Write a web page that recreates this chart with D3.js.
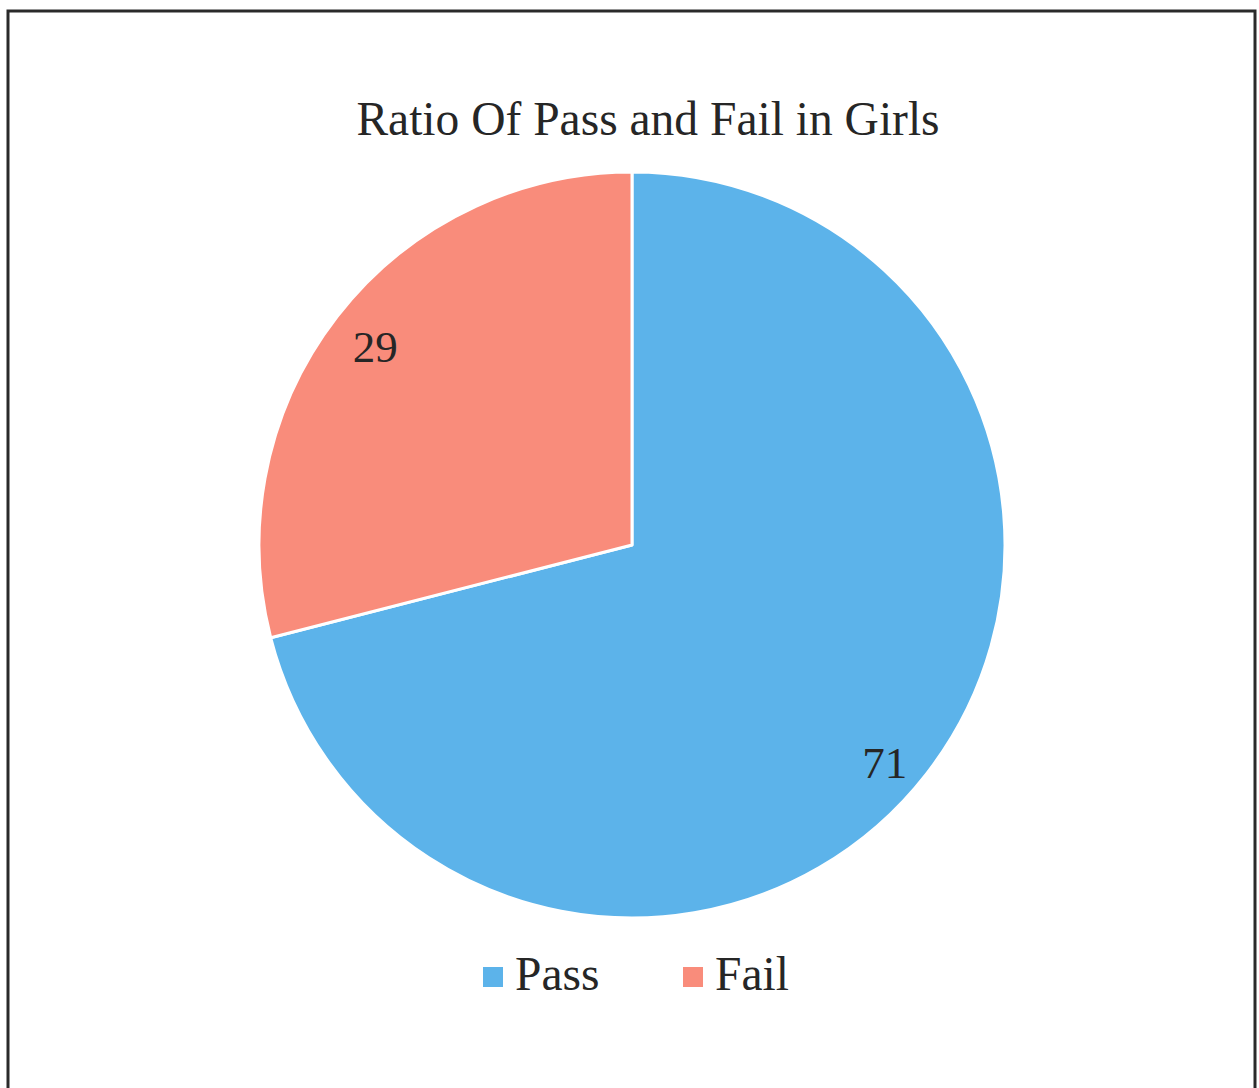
<!DOCTYPE html>
<html>
<head>
<meta charset="utf-8">
<script src="https://cdn.jsdelivr.net/npm/d3@7"></script>
<style>
  body { margin: 0; background: #fff; }
</style>
</head>
<body>
<svg id="chart" width="1259" height="1088"></svg>
<script>
// data
const categories = ["Pass", "Fail"];
const values = [71, 29];
const colors = ["#5cb3ea", "#f98c7b"];
const title = "Ratio Of Pass and Fail in Girls";

const font = '"Liberation Serif"';
const svg = d3.select("#chart");

// outer frame
svg.append("rect")
    .attr("x", 8).attr("y", 11)
    .attr("width", 1247).attr("height", 1090)
    .attr("fill", "none")
    .attr("stroke", "#2a2a2a")
    .attr("stroke-width", 3);

svg.append("text")
    .attr("x", 648).attr("y", 135)
    .attr("text-anchor", "middle")
    .style("font-family", font)
    .attr("font-size", 47.5)
    .attr("fill", "#262626")
    .text(title);

const cx = 632, cy = 545, r = 373;
const data = categories.map((c, i) => ({name: c, value: values[i], color: colors[i]}));

const pie = d3.pie().sort(null).value(d => d.value);
const arc = d3.arc().innerRadius(0).outerRadius(r);
const labelArc = d3.arc().innerRadius(325).outerRadius(325);
// small best-fit nudges for the data labels, like the original
const nudge = {Pass: [-4, 18], Fail: [0, 0]};

const g = svg.append("g").attr("transform", `translate(${cx},${cy})`);

g.selectAll("path")
    .data(pie(data))
    .enter().append("path")
    .attr("d", arc)
    .attr("fill", d => d.data.color)
    .attr("stroke", "#fff")
    .attr("stroke-width", 3)
    .attr("stroke-linejoin", "round");

g.selectAll("text.lbl")
    .data(pie(data))
    .enter().append("text")
    .attr("class", "lbl")
    .attr("transform", d => {
        const [x, y] = labelArc.centroid(d);
        const [nx, ny] = nudge[d.data.name];
        return `translate(${x + nx},${y + ny})`;
    })
    .attr("text-anchor", "middle")
    .attr("dy", "0.35em")
    .style("font-family", font)
    .attr("font-size", 45)
    .attr("fill", "#262626")
    .text(d => d.data.value);

// legend
const legendX = [483, 683];
const leg = svg.selectAll("g.leg")
    .data(data)
    .enter().append("g")
    .attr("class", "leg")
    .attr("transform", (d, i) => `translate(${legendX[i]},967)`);

leg.append("rect")
    .attr("width", 20).attr("height", 20)
    .attr("fill", d => d.color);

leg.append("text")
    .attr("x", 32).attr("y", 23)
    .style("font-family", font)
    .attr("font-size", 47.5)
    .attr("fill", "#262626")
    .text(d => d.name);
</script>
</body>
</html>
